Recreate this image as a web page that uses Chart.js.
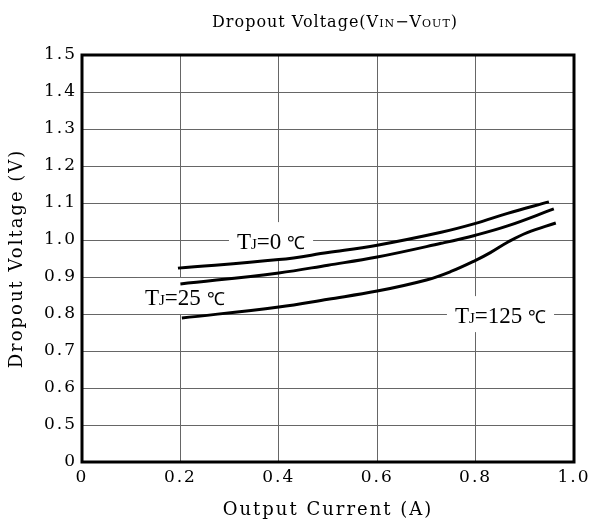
<!DOCTYPE html>
<html>
<head>
<meta charset="utf-8">
<script src="https://cdn.jsdelivr.net/npm/chart.js@4.4.0/dist/chart.umd.min.js"></script>
<style>
  html, body { margin: 0; padding: 0; background: #fff; }
  #wrap { width: 595px; height: 527px; }
</style>
</head>
<body>
<div id="wrap"><canvas id="chart"></canvas></div>
<script>
// axis ticks (y axis is broken: 0 then 0.5 .. 1.5)
const xTickLabels = ['0', '0.2', '0.4', '0.6', '0.8', '1.0'];
const yTickLabels = ['0', '0.5', '0.6', '0.7', '0.8', '0.9', '1.0', '1.1', '1.2', '1.3', '1.4', '1.5'];

// curves
const current0 = [0.195, 0.4, 0.5, 0.6, 0.73, 0.8, 0.865, 0.949];
const dropout0 = [0.924, 0.947, 0.966, 0.986, 1.021, 1.045, 1.072, 1.103];

const current25 = [0.2, 0.4, 0.5, 0.6, 0.73, 0.8, 0.865, 0.959];
const dropout25 = [0.881, 0.911, 0.932, 0.954, 0.991, 1.013, 1.038, 1.084];

const current125 = [0.203, 0.4, 0.5, 0.6, 0.7, 0.75, 0.8, 0.83, 0.865, 0.905, 0.963];
const dropout125 = [0.789, 0.819, 0.840, 0.862, 0.892, 0.915, 0.945, 0.966, 0.994, 1.020, 1.046];

// curve labels: text pieces, left edge / middle in data units
const labelParts = [
    [['T', 23], ['J', 15], ['=0 ', 23], ['\u2103', 18]],
    [['T', 23], ['J', 15], ['=25 ', 23], ['\u2103', 18]],
    [['T', 23], ['J', 15], ['=125 ', 23], ['\u2103', 18]]
];
const labelX = [0.315, 0.128, 0.758];
const labelY = [0.997, 0.846, 0.797];

const toPoints = (xs, ys) => xs.map((x, i) => ({ x: x, y: ys[i] }));

const serif = '"DejaVu Serif", serif';
const labelFont = '"Liberation Serif", serif';

function drawParts(ctx, parts, x, y, family) {
    let cx = x;
    parts.forEach(([t, size]) => {
        ctx.font = size + 'px ' + family;
        ctx.fillText(t, cx, y);
        cx += ctx.measureText(t).width;
    });
    return cx - x;
}

function partsWidth(ctx, parts, family) {
    let w = 0;
    parts.forEach(([t, size]) => {
        ctx.font = size + 'px ' + family;
        w += ctx.measureText(t).width;
    });
    return w;
}

const spacingPlugin = {
    id: 'spacing',
    beforeDraw(chart) {
        chart.ctx.letterSpacing = '2px';
    }
};

const labelPlugin = {
    id: 'curveLabels',
    beforeDatasetsDraw(chart) {
        const ctx = chart.ctx;
        const xs = chart.scales.x, ys = chart.scales.y;
        ctx.save();
        ctx.letterSpacing = '0px';
        ctx.textBaseline = 'alphabetic';
        ctx.textAlign = 'left';
        labelParts.forEach((parts, i) => {
            const px = xs.getPixelForValue(labelX[i]);
            const py = ys.getPixelForValue(labelY[i]);
            const w = partsWidth(ctx, parts, labelFont);
            ctx.fillStyle = '#fff';
            ctx.fillRect(px - 8, py - 19, w + 16, 36);
            ctx.fillStyle = '#000';
            drawParts(ctx, parts, px, py + 8, labelFont);
        });
        ctx.restore();
    },
    afterDraw(chart) {
        const ctx = chart.ctx;
        const a = chart.chartArea;
        ctx.save();
        // heavy frame round the plot
        ctx.strokeStyle = '#000';
        ctx.lineWidth = 3;
        ctx.strokeRect(a.left, a.top, a.right - a.left, a.bottom - a.top);
        // title with small caps subscripts
        const parts = [['Dropout Voltage(V', 16], ['IN', 11], ['\u2212', 16], ['V', 16], ['OUT', 11], [')', 16]];
        ctx.letterSpacing = '1px';
        ctx.textBaseline = 'alphabetic';
        ctx.textAlign = 'left';
        ctx.fillStyle = '#000';
        const w = partsWidth(ctx, parts, serif);
        drawParts(ctx, parts, 335 - w / 2, 27, serif);
        ctx.restore();
    }
};

const lineStyle = {
    borderColor: '#000',
    borderWidth: 3,
    pointRadius: 0,
    showLine: true,
    fill: false,
    tension: 0.4
};

new Chart(document.getElementById('chart'), {
    type: 'scatter',
    data: {
        datasets: [
            Object.assign({ label: 'TJ=0\u2103', data: toPoints(current0, dropout0) }, lineStyle),
            Object.assign({ label: 'TJ=25\u2103', data: toPoints(current25, dropout25) }, lineStyle),
            Object.assign({ label: 'TJ=125\u2103', data: toPoints(current125, dropout125) }, lineStyle)
        ]
    },
    options: {
        responsive: true,
        maintainAspectRatio: false,
        animation: false,
        layout: { padding: { left: 0, right: 21, top: 55, bottom: 0 } },
        plugins: {
            legend: { display: false },
            tooltip: { enabled: false }
        },
        scales: {
            x: {
                type: 'linear',
                min: 0,
                max: 1,
                ticks: {
                    stepSize: 0.2,
                    padding: 5,
                    color: '#000',
                    font: { family: serif, size: 17 },
                    callback: (v, i) => xTickLabels[i]
                },
                grid: { color: '#666', lineWidth: 1, drawTicks: false },
                border: { display: false },
                title: {
                    display: true,
                    text: 'Output Current (A)',
                    color: '#000',
                    font: { family: serif, size: 18 },
                    padding: { top: 0, bottom: 6 }
                },
                afterFit: (scale) => { scale.height = 65; }
            },
            y: {
                type: 'linear',
                min: 0.4,
                max: 1.5,
                ticks: {
                    stepSize: 0.1,
                    padding: 5,
                    color: '#000',
                    font: { family: serif, size: 17 },
                    callback: (v, i) => yTickLabels[i]
                },
                grid: { color: '#666', lineWidth: 1, drawTicks: false },
                border: { display: false },
                title: {
                    display: true,
                    text: 'Dropout Voltage (V)',
                    color: '#000',
                    font: { family: serif, size: 18 },
                    padding: { top: 7, bottom: 0 }
                },
                afterFit: (scale) => { scale.width = 82; }
            }
        }
    },
    plugins: [spacingPlugin, labelPlugin]
});
</script>
</body>
</html>
